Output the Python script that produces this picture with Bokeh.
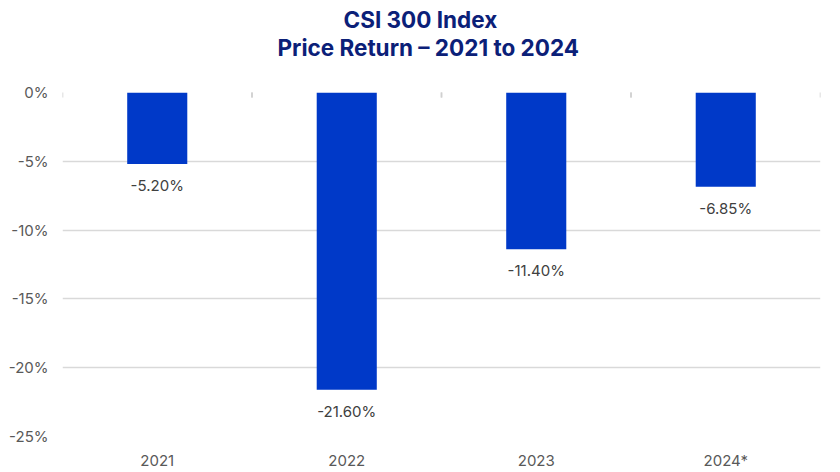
from bokeh.plotting import figure
from bokeh.models import ColumnDataSource, Range1d, FactorRange, FixedTicker, PrintfTickFormatter, Title
from bokeh.core.properties import value
from bokeh.transform import dodge
from bokeh.embed import file_html
from bokeh.resources import INLINE

years = ["2021", "2022", "2023", "2024*"]
returns = [-5.20, -21.60, -11.40, -6.85]
labels = ["-5.20%", "-21.60%", "-11.40%", "-6.85%"]
y_ticks = [-25, -20, -15, -10, -5, 0]
title_1 = "CSI 300 Index"
title_2 = "Price Return \u2013 2021 to 2024"

FONT = "Inter"
NAVY = "#0b2078"
BAR = "#0039C8"

src = ColumnDataSource(dict(x=years, y=returns, lab=labels, zero=[0] * len(years)))

p = figure(width=840, height=472, x_range=FactorRange(*years), y_range=Range1d(-25, 0),
           output_backend="svg", toolbar_location=None,
           min_border_left=62, min_border_right=20, min_border_top=92, min_border_bottom=35)
p.outline_line_color = None
p.background_fill_color = "white"

p.vbar(x="x", top="y", bottom=0, width=0.317, source=src, color=BAR, line_color=None)
p.text(x="x", y="y", text="lab", source=src, text_align="center", text_baseline="top",
       y_offset=12, text_font_size="15px", text_color="#404040", text_font=value(FONT))

# tick marks at category boundaries on the zero line
p.scatter(x=dodge("x", -0.5, range=p.x_range), y="zero", source=src, marker="dash",
          angle=1.5708, size=10, line_color="#d0d0d0", line_width=1.5)
p.scatter(x=dodge("x", 0.5, range=p.x_range), y="zero", source=src, marker="dash",
          angle=1.5708, size=10, line_color="#d0d0d0", line_width=1.5)

p.xgrid.grid_line_color = None
p.ygrid.grid_line_color = "#d9d9d9"
p.ygrid.grid_line_width = 1.5
p.ygrid.ticker = FixedTicker(ticks=y_ticks)

p.yaxis.ticker = FixedTicker(ticks=y_ticks)
p.yaxis.formatter = PrintfTickFormatter(format="%d%%")
for ax in (p.xaxis, p.yaxis):
    ax.axis_line_color = None
    ax.major_tick_line_color = None
    ax.minor_tick_line_color = None
    ax.major_tick_out = 0
    ax.major_tick_in = 0
    ax.minor_tick_out = 0
    ax.major_label_text_font = FONT
    ax.major_label_text_font_size = "15px"
    ax.major_label_text_color = "#595959"
p.yaxis.major_label_standoff = 14
p.xaxis.major_label_standoff = 14

# spacer between the title block and the plot frame
p.add_layout(Title(text=" ", text_font_size="1px", standoff=29), "above")
p.add_layout(Title(text=title_2, align="left", text_font=FONT, text_font_size="22.5px",
                   text_font_style="bold", text_color=NAVY, standoff=0, offset=215), "above")
p.add_layout(Title(text=title_1, align="left", text_font=FONT, text_font_size="22.5px",
                   text_font_style="bold", text_color=NAVY, standoff=-2, offset=281), "above")
p.title.visible = False

open("out.html", "w").write(file_html(p, INLINE))
